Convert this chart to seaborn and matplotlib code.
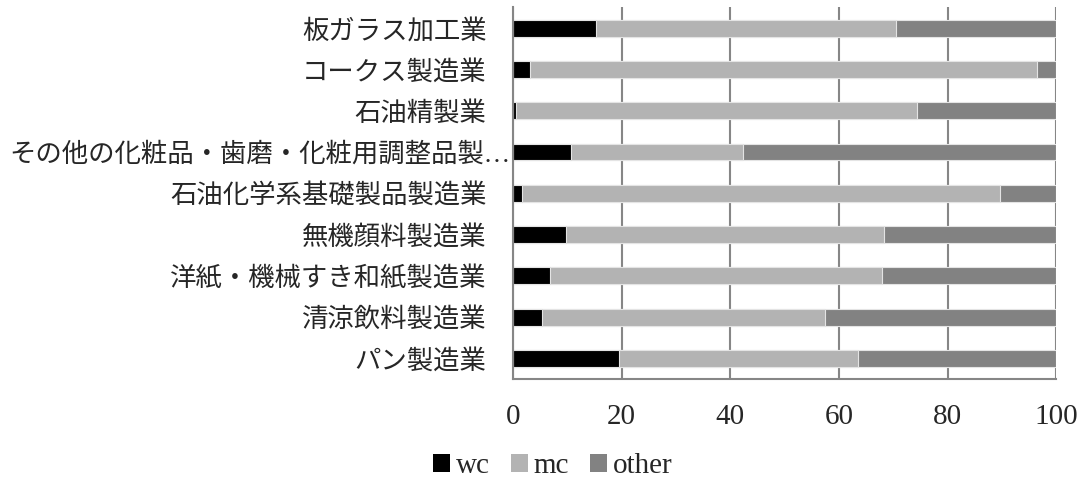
import pandas as pd
import matplotlib.pyplot as plt
import matplotlib.patches as mpatches
from matplotlib.transforms import ScaledTranslation
import seaborn as sns

categories = [
    "板ガラス加工業",
    "コークス製造業",
    "石油精製業",
    "その他の化粧品・歯磨・化粧用調整品製…",
    "石油化学系基礎製品製造業",
    "無機顔料製造業",
    "洋紙・機械すき和紙製造業",
    "清涼飲料製造業",
    "パン製造業",
]
wc = [15.2, 3.1, 0.6, 10.7, 1.6, 9.8, 6.8, 5.4, 19.5]
mc = [55.2, 93.3, 73.7, 31.7, 88.0, 58.4, 61.1, 52.0, 44.0]
other = [29.6, 3.6, 25.7, 57.6, 10.4, 31.8, 32.1, 42.6, 36.5]
series = ["wc", "mc", "other"]
colors = {"wc": "#000000", "mc": "#b3b3b3", "other": "#828282"}
xticks = [0, 20, 40, 60, 80, 100]

sns.set_style("white")
plt.rcParams["font.family"] = ["Liberation Serif", "Noto Sans CJK JP"]
plt.rcParams["font.size"] = 19

df = pd.DataFrame({"cat": categories, "wc": wc, "mc": mc, "other": other})
df["c_wc"] = df["wc"]
df["c_mc"] = df["wc"] + df["mc"]
df["c_other"] = df["c_mc"] + df["other"]

fig = plt.figure(figsize=(10.86, 4.83), dpi=100)
ax = fig.add_axes([0.4724, 0.2153, 0.5003, 0.7692])

# overlapping cumulative bars, widest first
for s in ["other", "mc", "wc"]:
    sns.barplot(data=df, x="c_" + s, y="cat", order=categories, color=colors[s],
                width=0.41, edgecolor="#e4e4e4", linewidth=0.8,
                saturation=1, ax=ax)

ax.set_xlim(0, 100)
ax.set_ylim(len(categories) - 0.5, -0.5)
ax.set_xticks(xticks)
ax.set_xlabel("")
ax.set_ylabel("")
ax.grid(axis="x", color="#868686", linewidth=1.5)
ax.set_axisbelow(True)
for side in ["top", "right"]:
    ax.spines[side].set_visible(False)
for side in ["left", "bottom"]:
    ax.spines[side].set_color("#868686")
    ax.spines[side].set_linewidth(1.5)

# category ticks sit between bars
ax.set_yticks([i - 0.5 for i in range(len(categories) + 1)], minor=True)
ax.tick_params(axis="y", which="major", length=0, pad=19)
ax.tick_params(axis="y", which="minor", length=7, width=1.5, color="#868686",
               direction="out")
ax.tick_params(axis="x", length=7, width=1.5, color="#868686",
               direction="out", pad=11, labelsize=21)

# the truncated label runs into the tick area, as in the original
long_lab = ax.get_yticklabels()[3]
long_lab.set_transform(long_lab.get_transform()
                       + ScaledTranslation(0.24, 0, fig.dpi_scale_trans))

handles = [mpatches.Patch(facecolor=colors[s], edgecolor="none", label=s)
           for s in series]
fig.legend(handles=handles, loc="center", bbox_to_anchor=(0.509, 0.035),
           ncol=3, frameon=False, handlelength=0.6, handleheight=0.6,
           handletextpad=0.2, columnspacing=0.7, fontsize=21)

fig.savefig("out.png", dpi=100)
